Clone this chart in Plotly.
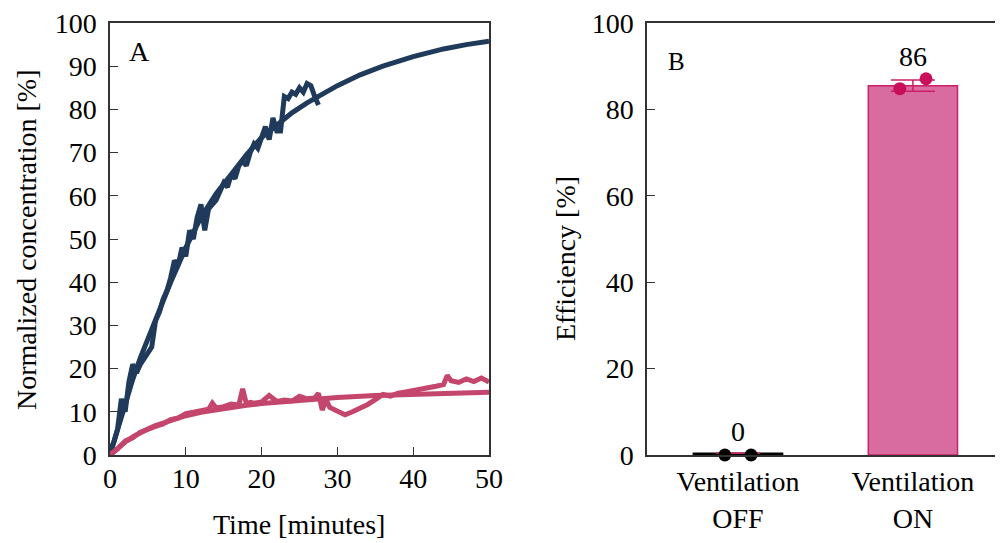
import plotly.graph_objects as go

# ---------------- Panel A data ----------------
fit_on_t = [0, 1, 2, 3, 4, 5, 6, 7, 8, 9, 10, 12, 14, 16, 18, 20, 22, 24, 26, 28, 30, 33, 36, 40, 44, 47, 50]
fit_on_v = [0, 6, 12, 17.5, 22.5, 27, 31.5, 36, 40, 44, 48, 55, 60.5, 65, 69.5, 73.5, 76.5, 79.2, 81.5, 83.6, 85.5, 88, 90, 92.2, 94, 95, 95.8]

meas_on_t = [0, 0.5, 1, 1.5, 2, 2.5, 3, 3.5, 4, 4.5, 5, 5.5, 6, 6.5, 7, 7.5, 8, 8.5, 9, 9.5, 10,
             10.5, 11, 11.5, 12, 12.5, 13, 13.5, 14, 14.5, 15, 15.5, 16, 16.5, 17, 17.5, 18, 18.5,
             19, 19.5, 20, 20.5, 21, 21.5, 22, 22.5, 23, 23.5, 24, 24.5, 25, 25.5, 26, 26.5, 27, 27.5]
meas_on_v = [1, 3, 6, 13, 10, 17, 21, 19, 21, 22.5, 23.5, 25, 31, 33, 36, 38, 41, 45, 44, 48, 46,
             52, 50, 55, 58, 52, 57, 58, 59, 61, 63, 62, 65, 64, 67, 68, 67, 70,
             72, 71, 74, 76, 73, 78, 75, 75, 83, 82.5, 84, 83.5, 85, 84, 86, 85.5, 83, 81]

fit_off_t = [0, 1, 2, 3, 4, 5, 6, 8, 10, 12, 14, 16, 18, 20, 23, 26, 30, 35, 40, 45, 50]
fit_off_v = [0, 1.6, 3.0, 4.2, 5.2, 6.0, 6.8, 8.1, 9.1, 9.9, 10.5, 11.1, 11.5, 11.9, 12.4, 12.8, 13.3, 13.8, 14.1, 14.3, 14.5]

meas_off_t = [0, 1, 2, 3, 4, 5, 6, 7, 8, 9, 10, 11, 12, 13, 13.5, 14, 15, 16, 17, 17.5, 18, 18.5, 19, 20,
              21, 22, 23, 24, 25, 26, 27, 27.5, 28, 28.5, 29, 30, 31, 32, 33, 34, 35, 36, 37, 38, 39,
              40, 41, 42, 43, 44, 44.5, 45, 46, 47, 48, 49, 50]
meas_off_v = [0, 1.4, 3.2, 4.0, 5.3, 6.1, 6.6, 7.2, 8.2, 8.6, 9.6, 9.9, 10.3, 10.6, 12.0, 10.9, 11.2, 11.8, 11.6, 15.3, 11.8, 12.2, 12.0, 12.3,
              13.8, 12.4, 12.7, 12.5, 13.6, 13.0, 13.2, 14.3, 10.4, 12.8, 11.0, 10.2, 9.3, 10.0, 10.8, 11.7, 12.8, 14.0, 13.6, 14.3, 14.6,
              14.9, 15.2, 15.4, 15.9, 16.3, 18.4, 17.2, 16.8, 17.6, 17.0, 17.8, 16.9]

# ---------------- Panel B data ----------------
categories = ["Ventilation<br>OFF", "Ventilation<br>ON"]
eff_mean = [0.4, 85.5]
eff_err = [0, 1.3]
eff_points = [[0, 0], [84.8, 87.1]]
eff_labels = ["0", "86"]

NAVY = "#1f3a5a"
PINK = "#c4466d"
FONT = "Liberation Serif, Times New Roman, serif"
FS = 28
AX = "#333333"

W, H = 995, 535   # page body has an 8px margin

fig = go.Figure()

for t, v, c in [(fit_on_t, fit_on_v, NAVY), (meas_on_t, meas_on_v, NAVY),
                (fit_off_t, fit_off_v, PINK), (meas_off_t, meas_off_v, PINK)]:
    fig.add_trace(go.Scatter(x=t, y=v, mode="lines", line=dict(color=c, width=5),
                             xaxis="x", yaxis="y", showlegend=False))

bar_fill = ["#000000", "#d86ba0"]
bar_line = ["#000000", "#cc1f66"]
pt_col = ["#000000", "#c8105a"]
fig.add_trace(go.Bar(x=[0, 1], y=eff_mean, width=0.51, marker=dict(color=bar_fill, line=dict(color=bar_line, width=1.5)),
                     error_y=dict(type="data", array=eff_err, color="#cc1f66", thickness=1.5, width=22),
                     xaxis="x2", yaxis="y2", showlegend=False))
jit = 0.075
for i, pts in enumerate(eff_points):
    fig.add_trace(go.Scatter(x=[i - jit, i + jit], y=pts, mode="markers",
                             marker=dict(color=pt_col[i], size=13), xaxis="x2", yaxis="y2",
                             showlegend=False, cliponaxis=False))

tfont = dict(size=FS, family=FONT, color="black")
ann = []
for i, lab in enumerate(eff_labels):
    ann.append(dict(x=i, y=eff_mean[i] + eff_err[i] if i else 0, xref="x2", yref="y2", text=lab,
                    showarrow=False, yanchor="bottom", yshift=6, font=tfont))
ann.append(dict(x=0.079, y=0.935, xref="x domain", yref="y domain", text="A", showarrow=False,
                xanchor="center", yanchor="middle", font=tfont))
ann.append(dict(x=0.084, y=0.912, xref="x2 domain", yref="y2 domain", text="B", showarrow=False,
                xanchor="center", yanchor="middle", font=dict(size=25, family=FONT, color="black")))
# axis titles
ann.append(dict(x=0.2925, y=-0.162, xref="paper", yref="paper", text="Time [minutes]", showarrow=False,
                xanchor="center", yanchor="middle", font=tfont))
ann.append(dict(x=0.0191, y=0.4977, xref="paper", yref="paper", text="Normalized concentration [%]",
                showarrow=False, textangle=-90, xanchor="center", yanchor="middle", font=tfont))
ann.append(dict(x=0.5598, y=0.4537, xref="paper", yref="paper", text="Efficiency [%]",
                showarrow=False, textangle=-90, xanchor="center", yanchor="middle", font=tfont))

common = dict(showline=True, linecolor=AX, linewidth=1.5, showgrid=False, zeroline=False,
              automargin=False, tickfont=tfont, ticklabeloverflow="allow")

fig.update_layout(
    width=W, height=H, plot_bgcolor="white", paper_bgcolor="white",
    margin=dict(l=0, r=0, t=15, b=88),
    font=tfont,
    annotations=ann,
    xaxis=dict(domain=[102 / W, 481 / W], range=[0, 50], tickvals=[0, 10, 20, 30, 40, 50],
               ticks="inside", ticklen=8, tickcolor=AX, mirror=True, ticklabelstandoff=-2, **common),
    yaxis=dict(range=[0, 100], tickvals=list(range(0, 101, 10)), ticks="inside", ticklen=8, tickcolor=AX,
               mirror=True, ticklabelstandoff=6, **common),
    xaxis2=dict(domain=[639 / W, 1.0], range=[-0.52, 1.515], tickvals=[0, 1], ticktext=categories,
                ticks="", mirror=True, anchor="y2", ticklabelstandoff=1, **common),
    yaxis2=dict(range=[0, 100], tickvals=list(range(0, 101, 20)), ticks="inside", ticklen=8, tickcolor=AX,
                anchor="x2", ticklabelstandoff=6, **common),
)

fig.write_html("out.html")
